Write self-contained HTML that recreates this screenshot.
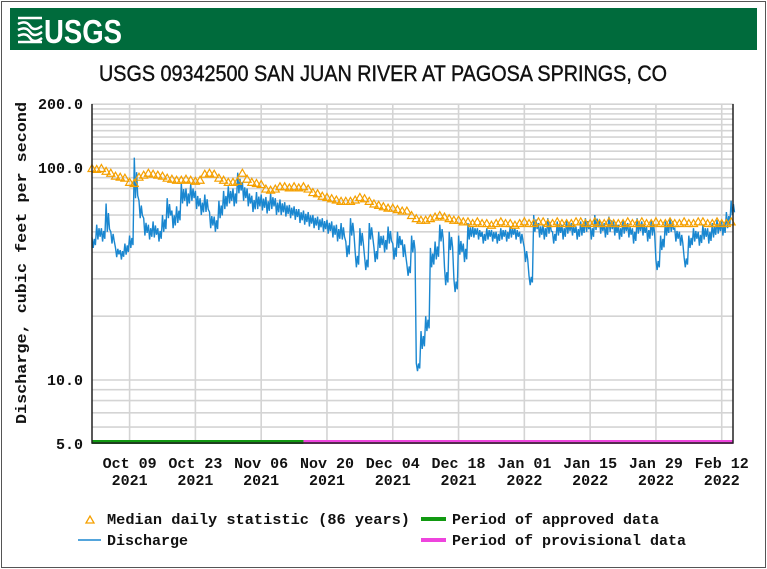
<!DOCTYPE html>
<html><head><meta charset="utf-8"><style>
body{margin:0;background:#fff;width:767px;height:569px;overflow:hidden}
svg{display:block}
.t{font-family:"Liberation Mono",monospace;font-weight:bold;font-size:15px;fill:#111}
</style></head><body>
<svg id="c" width="767" height="569">
<rect x="1.5" y="1.5" width="764" height="566" fill="#fff" stroke="#555" stroke-width="1"/>
<rect x="10" y="8" width="747" height="42" fill="#006b3c"/>
<g stroke="#fff" stroke-width="2.5" fill="none">
<path d="M18 18 h24 M18 24 q8 -4 12 2 t12 0 M18 30 q8 -4 12 2 t12 0 M18 36 q8 -4 12 2 t12 0 M18 42 h24"/>
</g>
<text x="44" y="43" font-family="Liberation Sans,sans-serif" font-weight="bold" font-size="33" fill="#fff" textLength="78" lengthAdjust="spacingAndGlyphs">USGS</text>
<text x="383" y="81" text-anchor="middle" font-family="Liberation Sans,sans-serif" font-size="22" fill="#111" stroke="#111" stroke-width="0.4" textLength="568" lengthAdjust="spacingAndGlyphs">USGS 09342500 SAN JUAN RIVER AT PAGOSA SPRINGS, CO</text>
<text class="t" transform="translate(26,263) rotate(-90)" text-anchor="middle" textLength="322" lengthAdjust="spacingAndGlyphs">Discharge, cubic feet per second</text>
<g id="grid"></g><g id="marks"></g><g id="axes"></g>
<g>
<path d="M86 523 l4 -7 l4 7 z" fill="none" stroke="#f5a000" stroke-width="1.3"/>
<text class="t" x="107" y="524" textLength="303" lengthAdjust="spacingAndGlyphs">Median daily statistic (86 years)</text>
<line x1="78" y1="540" x2="101" y2="540" stroke="#1a87d0" stroke-width="1.5"/>
<text class="t" x="107" y="545">Discharge</text>
<rect x="421" y="517" width="25" height="4" fill="#119911"/>
<text class="t" x="452" y="524">Period of approved data</text>
<rect x="421" y="538" width="25" height="4" fill="#ee44dd"/>
<text class="t" x="452" y="545">Period of provisional data</text>
</g>
</svg>
<script>
const discharge=[47,54,52,68,50,42,41,44,48,112,
70,58,54,56,52,60,72,63,66,85,
80,84,78,72,75,62,59,70,78,82,80,
95,86,80,74,77,75,73,76,72,71,
69,67,66,64,63,62,60,59,58,57,
56,54,55,45,58,40,52,38,55,42,
50,48,53,44,50,46,35,48,12,17,
20,42,45,54,34,50,30,48,44,55,
53,52,50,52,51,50,52,51,53,52,50,
42,31,60,55,54,58,50,56,54,57,
55,53,56,58,54,60,57,55,59,56,
54,57,55,52,58,56,53,57,37,48,56,
58,52,50,38,48,52,50,54,52,55,57,56,62,70];
const dischargeLow=[42,46,45,50,44,38,37,39,42,72,
58,48,46,47,45,50,58,52,55,68,
66,70,64,60,62,52,50,58,64,68,66,
76,70,66,62,64,63,61,64,60,60,
59,58,57,55,54,53,52,51,50,49,
47,45,46,38,48,34,43,33,46,36,
42,40,44,37,42,38,31,40,11,14,
17,34,37,45,28,41,26,39,36,46,
47,46,44,46,45,44,46,45,47,46,44,
36,28,50,47,46,49,44,48,46,49,
48,46,48,50,46,51,49,47,50,48,
46,49,47,44,49,48,45,48,33,41,48,
50,45,43,34,42,45,43,46,44,47,49,48,52,60];
const median=[100,99,100,97,95,92,91,90,86,85,
91,93,95,94,93,92,90,89,88,88,
89,88,87,88,94,95,94,90,88,86,86,
87,95,89,86,85,84,80,79,80,82,
82,81,82,81,82,80,77,76,74,73,
72,71,70,70,70,71,73,72,70,68,
67,66,65,65,64,63,63,60,58,57,
57,58,59,60,59,58,57,57,56,56,
55,56,55,55,54,55,56,55,55,54,55,
56,55,55,56,56,55,55,56,55,55,
55,56,56,55,55,56,55,55,56,55,
55,55,56,55,55,56,55,55,56,55,55,
56,55,55,56,55,55,56,56,55,55,56,55,55,56];
const xTicks=["Oct 09|2021","Oct 23|2021","Nov 06|2021","Nov 20|2021","Dec 04|2021","Dec 18|2021","Jan 01|2022","Jan 15|2022","Jan 29|2022","Feb 12|2022"];
const xTickDays=[8,22,36,50,64,78,92,106,120,134];
const yTicks=[5,10,100,200];
const yMinor=[6,7,8,9,20,30,40,50,60,70,80,90,110,120,130,140,150,160,170,180,190];
const approvedEndDay=45;
const totalDays=136.4;
const L=92,R=733,T=104,B=443;
const X=d=>L+d*(R-L)/totalDays;
const Y=v=>380-(Math.log10(v)-1)*212;
const NS="http://www.w3.org/2000/svg";
function mk(tag,attrs,parent){const e=document.createElementNS(NS,tag);for(const k in attrs)e.setAttribute(k,attrs[k]);parent.appendChild(e);return e;}
const grid=document.getElementById('grid'),marks=document.getElementById('marks'),axes=document.getElementById('axes');
mk('rect',{x:L,y:T,width:R-L,height:B-T,fill:'#fff',stroke:'#bbb'},grid);
yMinor.concat(yTicks).forEach(v=>{const y=Y(v);if(y<T-1||y>B)return;const l=mk('line',{x1:L,x2:R,y1:y,y2:y,stroke:'#d4d4d4','stroke-width':1.6},grid);

});
xTickDays.forEach((d,i)=>{const x=X(d);const l=mk('line',{x1:x,x2:x,y1:T,y2:B,stroke:'#d4d4d4','stroke-width':1.6},grid);


const p=xTicks[i].split('|');
const t1=mk('text',{x:x,y:468,'text-anchor':'middle',class:'t'},axes);t1.textContent=p[0];


const t2=mk('text',{x:x,y:485,'text-anchor':'middle',class:'t'},axes);t2.textContent=p[1];

});
yTicks.forEach(v=>{const t=mk('text',{x:83,y:Y(v)+5,'text-anchor':'end',class:'t'},axes);t.textContent=v.toFixed(1);

});
let dp='';
discharge.forEach((v,i)=>{
  dp+=(i?'L':'M')+X(i).toFixed(1)+' '+Y(v).toFixed(1);
  dp+='L'+(X(i)+1.2).toFixed(1)+' '+Y(dischargeLow[i]).toFixed(1);
  dp+='L'+(X(i)+2.3).toFixed(1)+' '+Y((v+dischargeLow[i])/2*1.04).toFixed(1);
  dp+='L'+(X(i)+3.4).toFixed(1)+' '+Y(dischargeLow[i]*1.03).toFixed(1);
});
const line=mk('path',{d:dp,fill:'none',stroke:'#1a87d0','stroke-width':1.4},marks);


median.forEach((v,i)=>{const x=X(i),y=Y(v);const tr=mk('path',{d:`M${x-4} ${y+3.5}L${x} ${y-3.5}L${x+4} ${y+3.5}Z`,fill:'none',stroke:'#f5a000','stroke-width':1.2},marks);

});
const ap=mk('rect',{x:L,y:B-3,width:X(approvedEndDay)-L,height:4,fill:'#119911'},axes);


const pv=mk('rect',{x:X(approvedEndDay),y:B-3,width:R-X(approvedEndDay),height:4,fill:'#ee44dd'},axes);


const ax=mk('path',{d:`M${L} ${T}V${B}H${R}V${T}`,fill:'none',stroke:'#222','stroke-width':1.5},axes);


</script>
</body></html>
